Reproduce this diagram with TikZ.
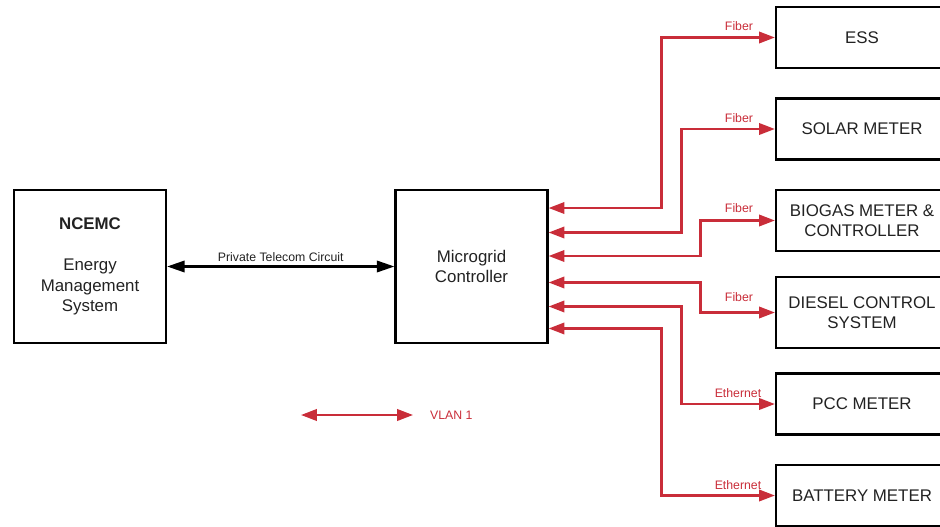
\documentclass[tikz,border=0pt]{standalone}
\usepackage{fontspec}
\setmainfont{Liberation Sans}
\usepackage{xcolor}
\usetikzlibrary{arrows.meta,positioning}
\definecolor{linkred}{HTML}{C92D39}
\definecolor{inkgray}{HTML}{222222}

\begin{document}
\begin{tikzpicture}[
  x=0.02cm, y=-0.02cm,
  box/.style={draw=black, line width=1.3pt, align=center, inner sep=0pt, text=inkgray, font=\fontsize{9.6}{11.6}\selectfont},
  bigbox/.style={box, minimum width=3.04cm, minimum height=3.06cm},
  devbox/.style={box, minimum width=3.44cm, minimum height=1.22cm},
  lbl/.style={font=\fontsize{7}{8}\selectfont, text=linkred, inner sep=1pt},
  link/.style={{Triangle[length=9pt,width=6.5pt]}-{Triangle[length=9pt,width=6.5pt]}, line width=1.3pt, draw=linkred},
  telco/.style={{Triangle[length=10pt,width=6.5pt]}-{Triangle[length=10pt,width=6.5pt]}, line width=1.3pt, draw=black}
]
\clip (0,0) rectangle (940,527);
\useasboundingbox (0,0) rectangle (940,527);

% control centre and site controller
\node[bigbox] (ems) at (90,266.5) {\textbf{NCEMC}\\[11.6pt]Energy\\Management\\System};
\node[bigbox] (mc) at (471.5,266.5) {Microgrid\\Controller};
\draw[telco] (ems) -- (mc) node[midway, above=-1pt, text=inkgray, font=\fontsize{7}{8}\selectfont] (ptc) {Private Telecom Circuit};

% field devices
\node[devbox] (ess) at (862,37.5) {ESS};
\node[devbox] (solar) at (862,129) {SOLAR METER};
\node[devbox] (biogas) at (862,220.5) {BIOGAS METER \&\\CONTROLLER};
\node[devbox, minimum height=1.42cm] (diesel) at (862,312.5) {DIESEL CONTROL\\SYSTEM};
\node[devbox] (pcc) at (862,404) {PCC METER};
\node[devbox] (battery) at (862,495.5) {BATTERY METER};

% VLAN 1 links
\draw[link] ([yshift=1.17cm]mc.east) -- ++(2.26cm,0) |- (ess);
\draw[link] ([yshift=0.68cm]mc.east) -- ++(2.66cm,0) |- (solar);
\draw[link] ([yshift=0.21cm]mc.east) -- ++(3.04cm,0) |- (biogas);
\draw[link] ([yshift=-0.32cm]mc.east) -- ++(3.04cm,0) |- (diesel);
\draw[link] ([yshift=-0.8cm]mc.east) -- ++(2.66cm,0) |- (pcc);
\draw[link] ([yshift=-1.24cm]mc.east) -- ++(2.26cm,0) |- (battery);

\node[lbl] (f1) at (739,26) {Fiber};
\node[lbl] (f2) at (739,118) {Fiber};
\node[lbl] (f3) at (739,208) {Fiber};
\node[lbl] (f4) at (739,297) {Fiber};
\node[lbl] (e1) at (738,393) {Ethernet};
\node[lbl] (e2) at (738,485) {Ethernet};

% legend
\coordinate (v1) at (301,415);
\coordinate (v2) at (413,415);
\draw[link] (v1) -- (v2);
\node[lbl, right=0.3cm of v2] (vlan) {VLAN 1};
\end{tikzpicture}
\end{document}
